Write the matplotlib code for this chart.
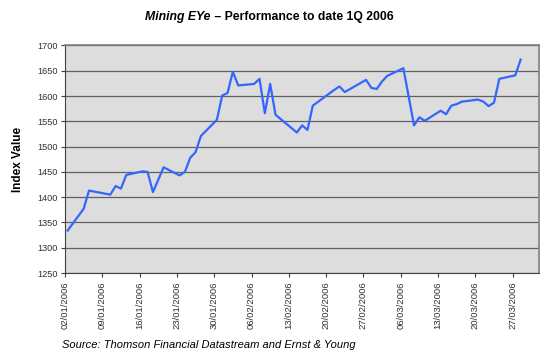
import matplotlib
matplotlib.use("Agg")
import matplotlib.pyplot as plt
import matplotlib.dates as mdates
from matplotlib.offsetbox import TextArea, HPacker, AnchoredOffsetbox
import pandas as pd

plt.rcParams['font.family'] = ['Liberation Sans', 'DejaVu Sans']

#%% Data (business days, index value)
dates = ['02/01/2006', '05/01/2006', '06/01/2006', '10/01/2006', '11/01/2006',
         '12/01/2006', '13/01/2006', '16/01/2006', '17/01/2006', '18/01/2006',
         '20/01/2006', '23/01/2006', '24/01/2006', '25/01/2006', '26/01/2006',
         '27/01/2006', '30/01/2006', '31/01/2006', '01/02/2006', '02/02/2006',
         '03/02/2006', '06/02/2006', '07/02/2006', '08/02/2006', '09/02/2006',
         '10/02/2006', '14/02/2006', '15/02/2006', '16/02/2006', '17/02/2006',
         '21/02/2006', '22/02/2006', '23/02/2006', '27/02/2006', '28/02/2006',
         '01/03/2006', '02/03/2006', '03/03/2006', '06/03/2006', '08/03/2006',
         '09/03/2006', '10/03/2006', '13/03/2006', '14/03/2006', '15/03/2006',
         '16/03/2006', '17/03/2006', '20/03/2006', '21/03/2006', '22/03/2006',
         '23/03/2006', '24/03/2006', '27/03/2006', '28/03/2006']
values = [1334, 1377, 1413, 1405, 1422,
          1417, 1444, 1451, 1450, 1410,
          1459, 1443, 1450, 1478, 1489,
          1521, 1553, 1601, 1606, 1648,
          1621, 1624, 1634, 1566, 1624,
          1563, 1528, 1542, 1533, 1581,
          1612, 1619, 1608, 1632, 1616,
          1614, 1629, 1640, 1655, 1542,
          1558, 1551, 1571, 1564, 1581,
          1584, 1589, 1593, 1589, 1580,
          1587, 1634, 1641, 1672]

tick_dates = pd.date_range('2006-01-02', '2006-03-27', freq='7D')
y_ticks = list(range(1250, 1701, 50))

#%% Plot
x = pd.to_datetime(dates, format='%d/%m/%Y') + pd.Timedelta(hours=12)

fig = plt.figure(figsize=(5.5, 3.54), dpi=100)
ax = fig.add_axes([0.1182, 0.2288, 0.8623, 0.6427])
ax.set_facecolor('#DDDDDD')

ax.plot(x, values, color='#3366FF', linewidth=1.6, solid_joinstyle='round', zorder=3)

ax.set_xlim(pd.Timestamp('2006-01-02'), pd.Timestamp('2006-04-01'))
ax.set_ylim(1250, 1700)
ax.set_yticks(y_ticks)
ax.set_xticks(tick_dates)
ax.xaxis.set_major_formatter(mdates.DateFormatter('%d/%m/%Y'))
ax.grid(axis='y', color='#606060', linewidth=0.9, zorder=1)
ax.set_axisbelow(True)

for s in ax.spines.values():
    s.set_color('#808080')
    s.set_linewidth(1.2)
ax.spines['left'].set_color('#404040')
ax.spines['bottom'].set_color('#404040')
ax.spines['left'].set_linewidth(0.8)
ax.spines['bottom'].set_linewidth(0.8)

ax.tick_params(axis='both', length=3, width=0.8, color='#404040', labelcolor='#303030')
ax.tick_params(axis='y', labelsize=6.6, pad=2)
ax.tick_params(axis='x', labelsize=6.8, labelrotation=90, pad=3)

ax.set_ylabel('Index Value', fontsize=8.5, fontweight='bold', labelpad=10)

# Title: italic part + plain bold part
t1 = TextArea('Mining EYe', textprops=dict(fontsize=8.8, fontweight='bold', fontstyle='italic'))
t2 = TextArea(' \u2013 Performance to date 1Q 2006', textprops=dict(fontsize=8.8, fontweight='bold'))
box = HPacker(children=[t1, t2], align='baseline', pad=0, sep=0)
anc = AnchoredOffsetbox(loc='upper center', child=box, pad=0, frameon=False,
                        bbox_to_anchor=(0.49, 0.97), bbox_transform=fig.transFigure,
                        borderpad=0)
fig.add_artist(anc)

fig.text(0.113, 0.018, 'Source: Thomson Financial Datastream and Ernst & Young',
         fontsize=8.0, fontstyle='italic', color='#000000')

fig.savefig('out.png', dpi=100)
